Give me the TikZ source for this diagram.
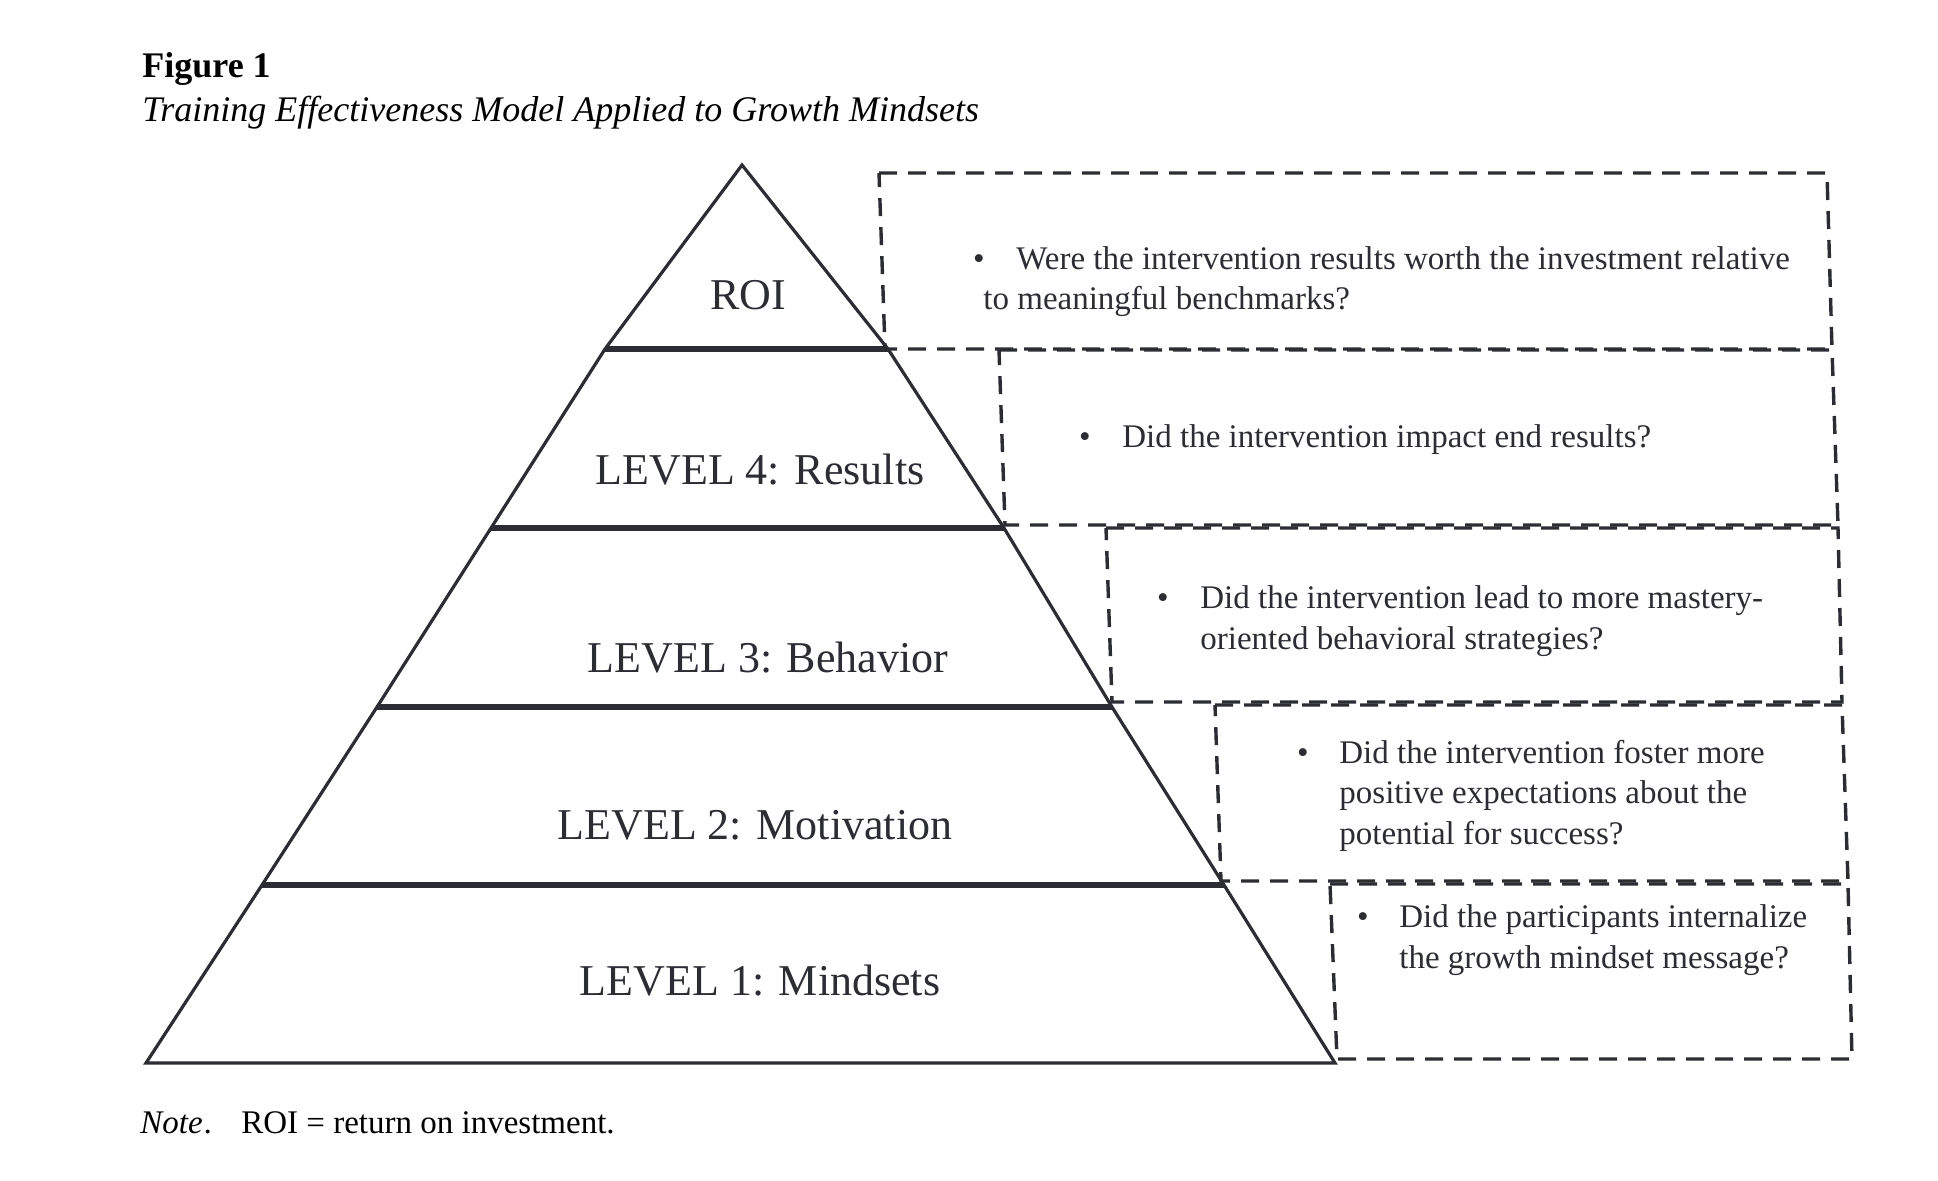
\documentclass[tikz,border=0pt]{standalone}
\usepackage{fontspec}
\setmainfont{Liberation Serif}
\definecolor{ink}{RGB}{43,45,51}
\begin{document}
\begin{tikzpicture}[x=0.5pt,y=-0.5pt,
  side/.style={draw=ink,line width=1.6pt,line join=miter},
  levelline/.style={draw=ink,line width=2.6pt},
  qbox/.style={draw=ink,line width=1.7pt,dash pattern=on 9pt off 5.5pt},
  lvl/.style={text=ink,font=\fontsize{22}{26}\selectfont,inner sep=0pt,anchor=base},
  qtext/.style={text=ink,font=\fontsize{16.5}{20}\selectfont,inner sep=0pt,anchor=base west},
  qbullet/.style={text=ink,font=\fontsize{16.5}{20}\selectfont,inner sep=0pt,anchor=base},
  ]
\useasboundingbox (0,0) rectangle (1938,1180);

% title
\node[anchor=base west,inner sep=0pt,font=\fontsize{18}{22}\selectfont\bfseries] (fig) at (142,77) {Figure 1};
\node[anchor=base west,inner sep=0pt,font=\fontsize{18}{22}\selectfont\itshape] (sub) at (142,121) {Training Effectiveness Model Applied to Growth Mindsets};

% pyramid points
\coordinate (apex) at (742,165);
\coordinate (r4) at (888,349);  \coordinate (l4) at (605,349);
\coordinate (r3) at (1004,528); \coordinate (l3) at (491,528);
\coordinate (r2) at (1112,707); \coordinate (l2) at (377,707);
\coordinate (r1) at (1224,885); \coordinate (l1) at (262,885);
\coordinate (r0) at (1335,1063); \coordinate (l0) at (146,1063);

\draw[side] (apex) -- (r4) -- (r3) -- (r2) -- (r1) -- (r0) -- (l0) -- (l1) -- (l2) -- (l3) -- (l4) -- cycle;
\draw[levelline] (l4) -- (r4);
\draw[levelline] (l3) -- (r3);
\draw[levelline] (l2) -- (r2);
\draw[levelline] (l1) -- (r1);

% level labels
\node[lvl] (roi) at (748,309) {ROI};
\node[lvl] (lv4) at (760,484) {LEVEL 4: Results};
\node[lvl] (lv3) at (768,672) {LEVEL 3: Behavior};
\node[lvl] (lv2) at (755,839) {LEVEL 2: Motivation};
\node[lvl] (lv1) at (760,995) {LEVEL 1: Mindsets};

% dashed boxes
\draw[qbox] (879,173) -- (1827,173) -- (1832,349) -- (885,349) -- cycle;
\draw[qbox] (999,350) -- (1832,350) -- (1838,525) -- (1005,525) -- cycle;
\draw[qbox] (1106,528) -- (1838,528) -- (1842,702) -- (1112,702) -- cycle;
\draw[qbox] (1215,705) -- (1842,705) -- (1848,881) -- (1221,881) -- cycle;
\draw[qbox] (1330,884) -- (1848,884) -- (1852,1059) -- (1337,1059) -- cycle;

% box texts
\node[qbullet] (b1) at (979,269) {•};
\node[qtext] (q1a) at (1016,269) {Were the intervention results worth the investment relative};
\node[qtext] (q1b) at (983,309) {to meaningful benchmarks?};

\node[qbullet] (b2) at (1085,447) {•};
\node[qtext] (q2a) at (1122,447) {Did the intervention impact end results?};

\node[qbullet] (b3) at (1163,608) {•};
\node[qtext] (q3a) at (1200,608) {Did the intervention lead to more mastery-};
\node[qtext] (q3b) at (1200,649) {oriented behavioral strategies?};

\node[qbullet] (b4) at (1303,763) {•};
\node[qtext] (q4a) at (1339,763) {Did the intervention foster more};
\node[qtext] (q4b) at (1339,803) {positive expectations about the};
\node[qtext] (q4c) at (1339,844) {potential for success?};

\node[qbullet] (b5) at (1363,927) {•};
\node[qtext] (q5a) at (1399,927) {Did the participants internalize};
\node[qtext] (q5b) at (1399,968) {the growth mindset message?};

% note
\node[anchor=base west,inner sep=0pt,font=\fontsize{16.5}{20}\selectfont\itshape] (note) at (140,1133) {Note};
\node[anchor=base west,inner sep=0pt,font=\fontsize{16.5}{20}\selectfont] (notedot) at (note.base east) {.};
\node[anchor=base west,inner sep=0pt,font=\fontsize{16.5}{20}\selectfont] (notetext) at (241,1133) {ROI = return on investment.};
\end{tikzpicture}
\end{document}
